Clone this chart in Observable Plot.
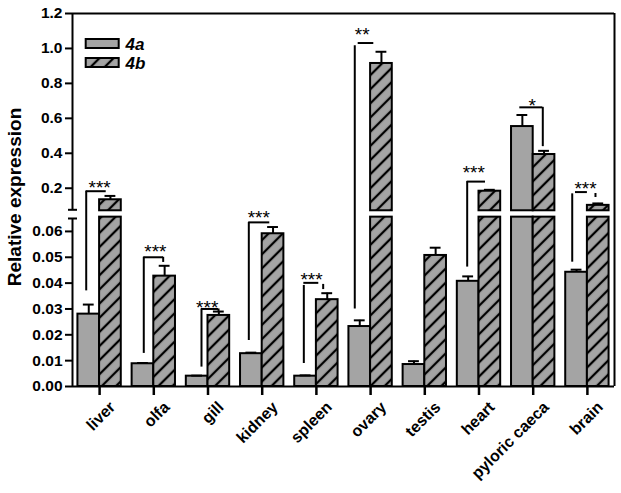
<!DOCTYPE html>
<html><head><meta charset="utf-8">
<script src="https://cdn.jsdelivr.net/npm/d3@7"></script>
<script src="https://cdn.jsdelivr.net/npm/@observablehq/plot@0.6"></script>
<style>body{margin:0;background:#fff}</style>
</head><body><div id="chart"></div>
<script>
// ---- data ----
const tissues = ["liver","olfa","gill","kidney","spleen","ovary","testis","heart","pyloric caeca","brain"];
const series = ["4a","4b"];
const a4    = [0.028, 0.0088, 0.004, 0.0127, 0.004, 0.0232, 0.0085, 0.0407, 0.553, 0.0442];
const a4err = [0.0037, 0.0003, 0.0002, 0.0004, 0.0003, 0.0024, 0.0013, 0.0019, 0.066, 0.001];
const b4    = [0.134, 0.0427, 0.0275, 0.0591, 0.0336, 0.914, 0.0507, 0.183, 0.393, 0.102];
const b4err = [0.022, 0.004, 0.0015, 0.0026, 0.0025, 0.067, 0.003, 0.008, 0.021, 0.011];

const yTicksLow  = [0, 0.01, 0.02, 0.03, 0.04, 0.05, 0.06];
const yTicksHigh = [0.2, 0.4, 0.6, 0.8, 1.0, 1.2];

// significance brackets (x offsets relative to the group centre, in group steps)
const brTissue = ["liver","olfa","gill","kidney","spleen","ovary","heart","pyloric caeca","brain"];
const brLabel  = ["***","***","***","***","***","**","***","*","***"];
const brVx     = [-0.247,-0.185,-0.12,-0.247,-0.232,-0.292,-0.218,-0.247,-0.28];
const brVlow   = [0.037, 0.0128, 0.0075, 0.0178, 0.0089, 0.030, 0.0462, 0.663, 0.0481];
const brVtop   = [0.183, 0.050, 0.030, 0.0635, 0.0391, 1.015, 0.238, 0.663, 0.168];
const brHx1    = [-0.247,-0.185,-0.12,-0.247,-0.232,-0.229,-0.218,-0.247,-0.22];
const brHx2    = [0.122, 0.179, 0.194, 0.14, 0.044, 0.059, 0.12, 0.177, 0.0];
const brHy     = [0.183, 0.050, 0.030, 0.0635, 0.0401, 1.031, 0.238, 0.663, 0.178];
const brTx     = [0.0, 0.03, -0.015, -0.063, -0.09, -0.155, -0.096, -0.018, -0.035];
const brTy     = [0.167, 0.0498, 0.0282, 0.0627, 0.0388, 1.04, 0.253, 0.634, 0.164];
const dropTissue = ["olfa","gill","spleen","pyloric caeca","brain"];
const dropX      = [0.173, 0.194, 0.125, 0.177, 0.149];
const dropTop    = [0.050, 0.030, 0.0395, 0.663, 0.17];
const dropBottom = [0.048, 0.029, 0.0375, 0.438, 0.147];

// ---- layout / style ----
const W = 621, H = 493;
const mL = 72, mR = 7, mT = 13, mB = 107;
const breakLow = 0.065, breakHigh = 0.0766;   // axis break
const gapLow = 0.0668, gapHigh = 0.0753;      // white gap in bars
const xMin = -0.5, xMax = tissues.length - 0.5;
const half = 0.4, capHalf = 0.1;
const gray = "#a4a4a4";
const font = "'Liberation Sans', Arial, sans-serif";

const idx = t => tissues.indexOf(t);
const bars = [];
tissues.forEach((t, i) => {
  bars.push({i, s: series[0], v: a4[i], e: a4err[i], x1: i - half, x2: i});
  bars.push({i, s: series[1], v: b4[i], e: b4err[i], x1: i, x2: i + half});
});
const barsA = bars.filter(d => d.s === "4a");
const barsB = bars.filter(d => d.s === "4b");
const brackets = brTissue.map((t, k) => ({i: idx(t), label: brLabel[k], vx: brVx[k], vlow: brVlow[k], vtop: brVtop[k],
  hx1: brHx1[k], hx2: brHx2[k], hy: brHy[k], tx: brTx[k], ty: brTy[k]}));
const drops = dropTissue.map((t, k) => ({i: idx(t), x: dropX[k], top: dropTop[k], bottom: dropBottom[k]}));
const yTicks = [...yTicksLow, ...yTicksHigh];
const tissueIdx = tissues.map((_, i) => i);
const fmtY = d => d < 0.1 ? d.toFixed(2) : d.toFixed(1);

const hatchDefs = () => {
  const d = document.createElementNS("http://www.w3.org/2000/svg", "defs");
  d.innerHTML = `<pattern id="hatch" patternUnits="userSpaceOnUse" width="10" height="10" patternTransform="rotate(45)">
     <rect width="10" height="10" fill="${gray}"/>
     <line x1="5" y1="0" x2="5" y2="10" stroke="black" stroke-width="2.3"/></pattern>`;
  return d;
};
const swatch = {draw(ctx) { ctx.rect(-16.5, -4.5, 33, 9); }};

const barMarks = (data, fill) => [
  Plot.rect(data, {x1: "x1", x2: "x2", y1: 0, y2: d => Math.min(d.v, gapLow), fill, stroke: "black", strokeWidth: 2}),
  Plot.rect(data.filter(d => d.v > gapHigh), {x1: "x1", x2: "x2", y1: gapHigh, y2: "v", fill, stroke: "black", strokeWidth: 2}),
  Plot.ruleX(data, {x: d => (d.x1 + d.x2) / 2, y1: "v", y2: d => d.v + d.e, strokeWidth: 2}),
  Plot.ruleY(data, {y: d => d.v + d.e, x1: d => (d.x1 + d.x2) / 2 - capHalf, x2: d => (d.x1 + d.x2) / 2 + capHalf, strokeWidth: 2})
];

const chart = Plot.plot({
  width: W, height: H,
  marginLeft: mL, marginRight: mR, marginTop: mT, marginBottom: mB,
  style: {fontFamily: font, fontWeight: "bold", fontSize: "15px", background: "#fff", color: "black"},
  x: {type: "linear", domain: [xMin, xMax], axis: null},
  y: {type: "linear", domain: [0, breakLow, breakHigh, 1.2], range: [H - mB, 218, 209.3, mT], axis: null},
  marks: [
    hatchDefs,
    ...barMarks(barsA, gray),
    ...barMarks(barsB, "url(#hatch)"),
    // frame & broken axis
    Plot.ruleX([xMin], {y1: 0, y2: breakLow, strokeWidth: 2}),
    Plot.ruleX([xMin], {y1: breakHigh, y2: 1.2, strokeWidth: 2}),
    Plot.ruleY([breakLow, breakHigh], {x1: xMin, x2: xMin, insetLeft: -4, insetRight: -5, strokeWidth: 2}),
    Plot.ruleX([xMax], {y1: 0, y2: 1.2, strokeWidth: 2}),
    Plot.ruleY([0, 1.2], {x1: xMin, x2: xMax, strokeWidth: 2}),
    // y axis ticks + labels
    Plot.ruleY(yTicks, {y: d => d, x1: xMin, x2: xMin, insetLeft: -7, strokeWidth: 2}),
    Plot.text(yTicks, {x: xMin, y: d => d, text: fmtY, dx: -10, textAnchor: "end", lineAnchor: "middle", fontSize: 15.5}),
    // x axis ticks + labels
    Plot.ruleX(tissueIdx, {x: d => d, y1: 0, y2: 0, insetBottom: -9, strokeWidth: 2.5}),
    Plot.text(tissueIdx, {x: d => d, y: 0, text: i => tissues[i], rotate: -45, dx: 13, dy: 18,
      textAnchor: "end", lineAnchor: "middle", fontSize: 16}),
    Plot.text(["Relative expression"], {frameAnchor: "left", text: d => d, rotate: -90, dx: -52, dy: -3,
      textAnchor: "middle", lineAnchor: "bottom", fontSize: 19}),
    // significance brackets
    Plot.ruleX(brackets.filter(d => d.vtop > d.vlow), {x: d => d.i + d.vx, y1: "vlow", y2: "vtop", strokeWidth: 2}),
    Plot.ruleY(brackets, {y: "hy", x1: d => d.i + d.hx1, x2: d => d.i + d.hx2, strokeWidth: 2}),
    Plot.ruleX(drops, {x: d => d.i + d.x, y1: "bottom", y2: "top", strokeWidth: 2}),
    Plot.text(brackets, {x: d => d.i + d.tx, y: "ty", text: "label", lineAnchor: "bottom", fontSize: 19, fontWeight: "normal"}),
    // legend
    Plot.dot([series[0]], {frameAnchor: "top-left", dx: 29.7, dy: 30, symbol: swatch, fill: gray, stroke: "black", strokeWidth: 2}),
    Plot.dot([series[1]], {frameAnchor: "top-left", dx: 29.7, dy: 49, symbol: swatch, fill: "url(#hatch)", stroke: "black", strokeWidth: 2}),
    Plot.text([series[0]], {frameAnchor: "top-left", text: d => d, dx: 53, dy: 36, lineAnchor: "bottom", textAnchor: "start", fontSize: 17, fontStyle: "italic"}),
    Plot.text([series[1]], {frameAnchor: "top-left", text: d => d, dx: 53, dy: 55, lineAnchor: "bottom", textAnchor: "start", fontSize: 17, fontStyle: "italic"})
  ]
});
document.getElementById("chart").appendChild(chart);
</script>
</body></html>
